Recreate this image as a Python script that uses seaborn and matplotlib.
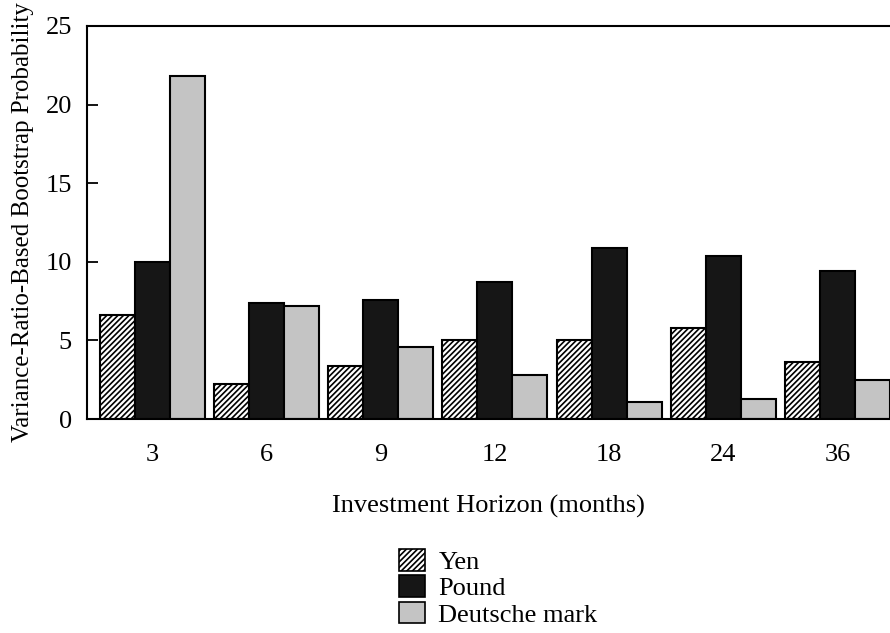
import matplotlib
matplotlib.use("Agg")
import matplotlib.pyplot as plt
import pandas as pd
import seaborn as sns
from matplotlib.patches import Patch

horizons = ["3", "6", "9", "12", "18", "24", "36"]
yen = [6.6, 2.2, 3.4, 5.0, 5.0, 5.8, 3.6]
pound = [10.0, 7.4, 7.6, 8.7, 10.9, 10.4, 9.4]
dmark = [21.8, 7.2, 4.6, 2.8, 1.1, 1.3, 2.5]
currencies = ["Yen", "Pound", "Deutsche mark"]

df = pd.DataFrame({
    "horizon": horizons * 3,
    "prob": yen + pound + dmark,
    "currency": [c for c in currencies for _ in horizons],
})

sns.set_theme(style="white")
plt.rcParams["font.family"] = ["Liberation Serif", "DejaVu Serif"]
plt.rcParams["text.color"] = "black"
plt.rcParams["axes.labelcolor"] = "black"
plt.rcParams["xtick.color"] = "black"
plt.rcParams["ytick.color"] = "black"
plt.rcParams["hatch.linewidth"] = 1.2

colors = {"Yen": "white", "Pound": "#161616", "Deutsche mark": "#c4c4c4"}

fig = plt.figure(figsize=(8.9, 6.33), dpi=100)
ax = fig.add_axes([0.098, 0.338, 0.902, 0.621])
sns.barplot(data=df, x="horizon", y="prob", hue="currency", order=horizons,
            hue_order=currencies, palette=colors, width=0.92, saturation=1,
            edgecolor="black", linewidth=1.5, legend=False, ax=ax)
for bar in ax.containers[0]:
    bar.set_hatch("//////")

ax.set_ylim(0, 25)
ax.set_xlim(-0.57, 6.46)
ax.set_yticks([0, 5, 10, 15, 20, 25])
ax.tick_params(axis="y", direction="in", length=8, width=1.3, labelsize=19, pad=11, left=True)
ax.tick_params(axis="x", length=0, labelsize=19, pad=18)
for s in ["left", "bottom", "top"]:
    ax.spines[s].set_color("black")
    ax.spines[s].set_linewidth(1.5)
ax.spines["right"].set_visible(False)
ax.set_xlabel("Investment Horizon (months)", fontsize=19, labelpad=21)
ax.set_ylabel("Variance-Ratio-Based Bootstrap Probability", fontsize=18, labelpad=8)

handles = [Patch(facecolor=colors[c], edgecolor="black", linewidth=1.2,
                 hatch="//////" if c == "Yen" else None, label=c) for c in currencies]
fig.legend(handles=handles, loc="upper left", bbox_to_anchor=(0.448, 0.133),
           frameon=False, fontsize=19, handlelength=1.0, handleheight=0.9,
           handletextpad=0.5, labelspacing=0.05, borderpad=0, borderaxespad=0)

fig.savefig("out.png", dpi=100)
